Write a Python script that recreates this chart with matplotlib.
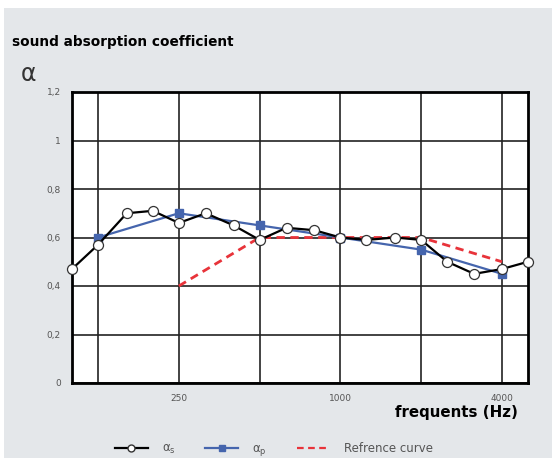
import matplotlib.pyplot as plt
from matplotlib.patches import Rectangle
from matplotlib.lines import Line2D

# 1/3 octave bands, measured alpha_s
freq_s = [100, 125, 160, 200, 250, 315, 400, 500, 630, 800, 1000, 1250, 1600, 2000, 2500, 3150, 4000, 5000]
alpha_s = [0.47, 0.57, 0.70, 0.71, 0.66, 0.70, 0.65, 0.59, 0.64, 0.63, 0.60, 0.59, 0.60, 0.59, 0.50, 0.45, 0.47, 0.50]

# octave bands, practical alpha_p
freq_p = [125, 250, 500, 1000, 2000, 4000]
alpha_p = [0.60, 0.70, 0.65, 0.60, 0.55, 0.45]

# reference curve
freq_ref = [250, 500, 1000, 2000, 4000]
alpha_ref = [0.40, 0.60, 0.60, 0.60, 0.50]

octaves = [125, 250, 500, 1000, 2000, 4000]
octave_labels = ["", "250", "", "1000", "", "4000"]
y_ticks = [0, 0.2, 0.4, 0.6, 0.8, 1.0, 1.2]
y_labels = ["0", "0,2", "0,4", "0,6", "0,8", "1", "1,2"]

bg = "#e4e7ea"
blue = "#4565ad"
red = "#e8333a"
grey_txt = "#555555"

fig = plt.figure(figsize=(5.52, 4.58), dpi=100)
fig.patch.set_facecolor("white")
fig.patches.append(Rectangle((4 / 552, 0), 1, 1 - 8 / 458, transform=fig.transFigure,
                             facecolor=bg, edgecolor="none", zorder=-10))

ax = fig.add_axes([72 / 552, 1 - 383 / 458, (528 - 72) / 552, (383 - 92) / 458])
ax.set_facecolor("white")
ax.set_xscale("log")
ax.set_xlim(100, 5000)
ax.set_ylim(0, 1.2)

ax.set_xticks(octaves)
ax.set_xticklabels(octave_labels)
ax.xaxis.set_minor_locator(plt.NullLocator())
ax.set_yticks(y_ticks)
ax.set_yticklabels(y_labels)
ax.tick_params(length=0, labelsize=6.5, labelcolor=grey_txt, pad=8)
ax.grid(True, color="#222222", linewidth=1.2)
ax.set_axisbelow(True)
for s in ax.spines.values():
    s.set_linewidth(2)
    s.set_color("black")

ax.plot(freq_ref, alpha_ref, "--", color=red, linewidth=2, dashes=(3, 2), zorder=3)
ax.plot(freq_p, alpha_p, "-s", color=blue, linewidth=1.6, markersize=5.5, zorder=4)
ax.plot(freq_s, alpha_s, "-o", color="black", linewidth=1.6, markersize=7.2,
        markerfacecolor="white", markeredgecolor="#333333", markeredgewidth=0.9,
        zorder=5, clip_on=False)

fig.text(12 / 552, 1 - 42 / 458, "sound absorption coefficient", fontsize=9.8,
         fontweight="bold", va="center", ha="left")
fig.text(21 / 552, 1 - 74 / 458, "α", fontsize=17, va="center", ha="left",
         color="#333333")
fig.text(518 / 552, 1 - 413 / 458, "frequents (Hz)", fontsize=10.8,
         fontweight="bold", va="center", ha="right")

handles = [
    Line2D([], [], color="black", linewidth=1.6, marker="o", markersize=5,
           markerfacecolor="white", markeredgecolor="#333333"),
    Line2D([], [], color=blue, linewidth=1.6, marker="s", markersize=4.5),
    Line2D([], [], color=red, linestyle="--", linewidth=1.6, dashes=(3, 2)),
]
labels = ["α$_\\mathregular{s}$", "α$_\\mathregular{p}$", "Refrence curve"]
leg = fig.legend(handles, labels, loc="center left", bbox_to_anchor=(104 / 552, 1 - 450 / 458),
                 ncol=3, frameon=False, fontsize=8.5, handlelength=2.8,
                 columnspacing=2.5, handletextpad=1.2)
for t in leg.get_texts():
    t.set_color(grey_txt)

fig.savefig("out.png", dpi=100)
